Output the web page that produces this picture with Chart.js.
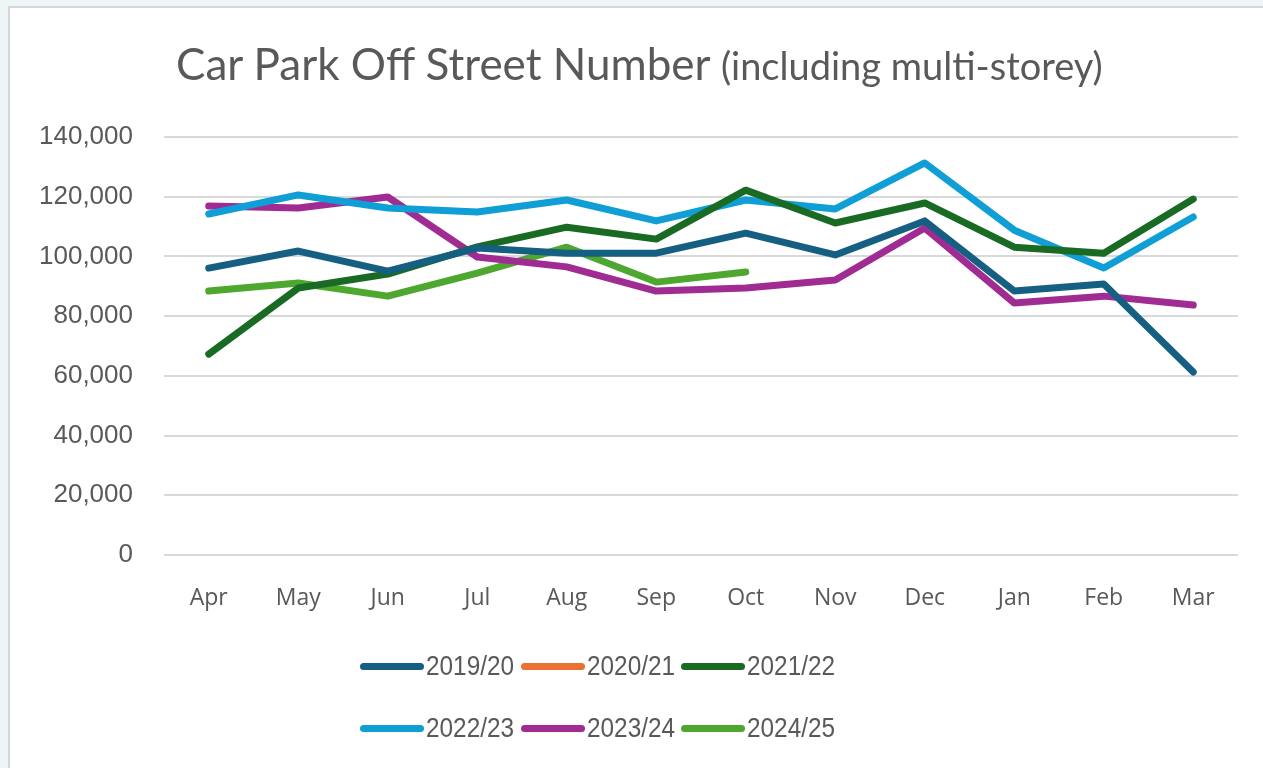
<!DOCTYPE html>
<html>
<head>
<meta charset="utf-8">
<script src="https://cdn.jsdelivr.net/npm/chart.js@4.4.1/dist/chart.umd.min.js"></script>
<style>
  html, body { margin: 0; padding: 0; }
  body { width: 1263px; height: 768px; overflow: hidden; background: #eef5f7; position: relative; }
  #frame { position: absolute; left: 8px; top: 6px; width: 1270px; height: 780px; background: #fff;
           border-left: 2px solid #d6d6d6; border-top: 2px solid #d6d6d6; }
  #chart-wrap { position: absolute; left: 0; top: 0; width: 1263px; height: 768px; }
  #title { position: absolute; left: 176px; top: 39px; color: #595959; font-family: Lato, "Open Sans", sans-serif;
           font-size: 44px; white-space: nowrap; line-height: 48px; }
  #title .sub { font-size: 38px; }
  #legend { position: absolute; left: 360px; top: 650px; width: 520px; font-family: "Liberation Sans", Arial, sans-serif;
            font-size: 28px; color: #595959; display: grid; grid-template-columns: repeat(3, 160.5px); row-gap: 30px; }
  .item { display: flex; align-items: center; height: 32px; }
  .swatch { width: 64px; height: 7px; border-radius: 4px; margin-right: 2px; flex: none; }
  .item span { display: inline-block; transform: scaleX(0.87); transform-origin: left center; }
</style>
</head>
<body>
<div id="frame"></div>
<div id="chart-wrap"><canvas id="chart-main" width="1263" height="768"></canvas></div>
<div id="title">Car Park Off Street Number <span class="sub">(including multi-storey)</span></div>
<div id="legend"></div>
<script>
const months = ['Apr', 'May', 'Jun', 'Jul', 'Aug', 'Sep', 'Oct', 'Nov', 'Dec', 'Jan', 'Feb', 'Mar'];
const seriesNames = ['2019/20', '2020/21', '2021/22', '2022/23', '2023/24', '2024/25'];
const seriesColors = ['#156082', '#E97132', '#196B24', '#0F9ED5', '#A02B93', '#4EA72E'];

const y2019 = [96100, 101800, 95100, 102800, 101100, 101100, 107800, 100500, 111900, 88400, 90800, 61300];
const y2020 = [null, null, null, null, null, null, null, null, null, null, null, null];
const y2021 = [67300, 89400, 94100, 103200, 109800, 105800, 122200, 111200, 117900, 103100, 101100, 119200];
const y2022 = [114200, 120600, 116200, 114900, 118900, 111900, 118900, 115900, 131300, 108800, 96100, 113200];
const y2023 = [116900, 116200, 119900, 99800, 96500, 88400, 89400, 92100, 109500, 84400, 86700, 83700];
const y2024 = [88400, 91100, 86700, 94400, 103100, 91400, 94800, null, null, null, null, null];

const yTicks = [0, 20000, 40000, 60000, 80000, 100000, 120000, 140000];

const seriesValues = [y2019, y2020, y2021, y2022, y2023, y2024];

const datasets = seriesNames.map((name, i) => ({
  label: name,
  data: seriesValues[i],
  borderColor: seriesColors[i],
  backgroundColor: seriesColors[i],
  borderWidth: 7,
  borderCapStyle: 'round',
  borderJoinStyle: 'round',
  pointRadius: 0,
  pointHoverRadius: 0,
  tension: 0,
  spanGaps: false
}));

const chart = new Chart(document.getElementById('chart-main'), {
  type: 'line',
  data: { labels: months, datasets },
  options: {
    responsive: false,
    animation: false,
    events: [],
    layout: { padding: { left: 0, top: 137, right: 25, bottom: 0 } },
    plugins: { legend: { display: false }, title: { display: false }, tooltip: { enabled: false } },
    scales: {
      x: {
        offset: true,
        grid: { display: false, drawTicks: false },
        border: { display: false },
        ticks: { color: '#595959', padding: 30, font: { family: '"Open Sans", sans-serif', size: 23 } },
        afterFit: (s) => { s.height = 213; }
      },
      y: {
        min: 0,
        max: 140000,
        afterBuildTicks: (s) => { s.ticks = yTicks.map(v => ({ value: v })); },
        grid: { color: '#d9d9d9', lineWidth: 2, drawTicks: false },
        border: { display: false },
        ticks: {
          color: '#595959', padding: 31,
          font: { family: '"Liberation Sans", Arial, sans-serif', size: 26 },
          callback: (v) => v.toLocaleString('en-GB')
        },
        afterFit: (s) => { s.width = 164; }
      }
    }
  }
});

// Legend built from chart datasets, 3 per row
document.getElementById('legend').innerHTML = chart.data.datasets.map(d => `
  <div class="item"><div class="swatch" style="background:${d.borderColor}"></div><span>${d.label}</span></div>`).join('');
</script>
</body>
</html>
